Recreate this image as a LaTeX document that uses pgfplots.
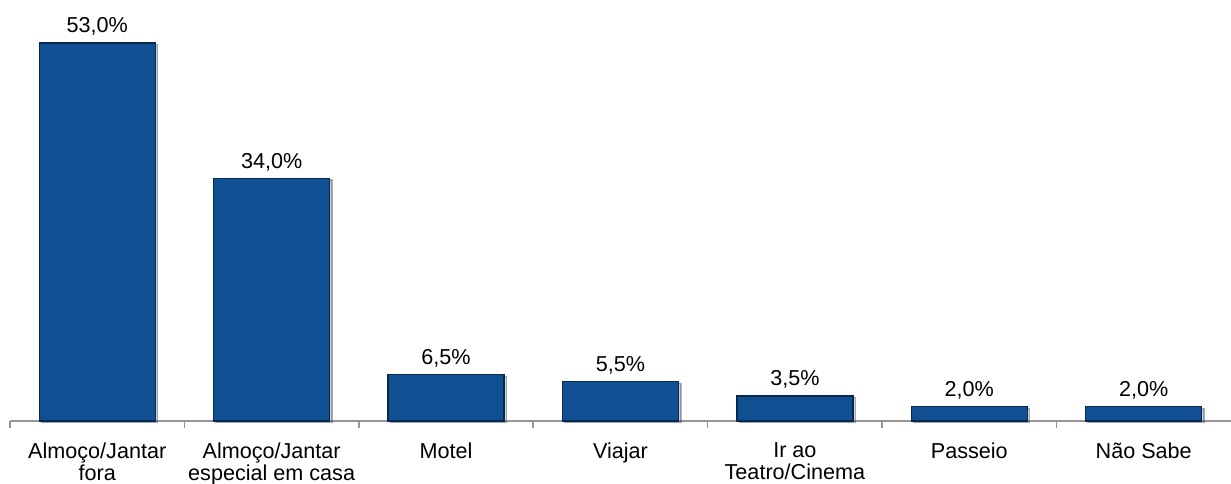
\documentclass[border=0pt]{standalone}
\usepackage{fontspec}
\setmainfont{Liberation Sans}
\usepackage{pgfplots}
\pgfplotsset{compat=1.18}
\usetikzlibrary{shadows}
\definecolor{barblue}{RGB}{16,80,146}
\definecolor{baredge}{RGB}{8,40,80}
\definecolor{axisgray}{RGB}{150,150,150}
\begin{document}
\begin{tikzpicture}
\begin{axis}[
  at={(0,0)}, anchor=south west,
  x=87.21pt, y=3.565pt,
  xmin=-0.5, xmax=6.5, ymin=0, ymax=58,
  axis x line*=bottom, axis y line=none,
  axis line style={axisgray, line width=0.8pt},
  ybar, bar width=58pt,
  xtick=data,
  xticklabels={{Almoço/Jantar\\fora},{Almoço/Jantar\\especial em casa},{Motel},{Viajar},{Ir ao\\Teatro/Cinema},{Passeio},{Não Sabe}},
  major tick length=0pt,
  x tick label style={align=center, font=\fontsize{10.8}{11}\selectfont, yshift=-7.5pt},
  extra x ticks={-0.5,0.5,1.5,2.5,3.5,4.5,5.5},
  extra x tick labels={},
  extra x tick style={major tick length=3.5pt, tick align=outside, tick style={axisgray, line width=0.8pt}},
  /pgf/number format/assume math mode=true,
  nodes near coords={\pgfmathprintnumber[fixed,fixed zerofill,precision=1,use comma]{\pgfplotspointmeta}\%},
  every node near coord/.append style={font=\fontsize{10.8}{12}\selectfont, text=black, yshift=0pt},
  clip=false,
]
\addplot[fill=barblue, draw=baredge, line width=0.7pt,
  drop shadow={shadow xshift=1.2pt, shadow yshift=-0.8pt, opacity=0.35}]
  coordinates {(0,53.0) (1,34.0) (2,6.5) (3,5.5) (4,3.5) (5,2.0) (6,2.0)};
\end{axis}
\pgfresetboundingbox
\useasboundingbox (-5pt,-31pt) rectangle (610.5pt,210.5pt);
\end{tikzpicture}
\end{document}
